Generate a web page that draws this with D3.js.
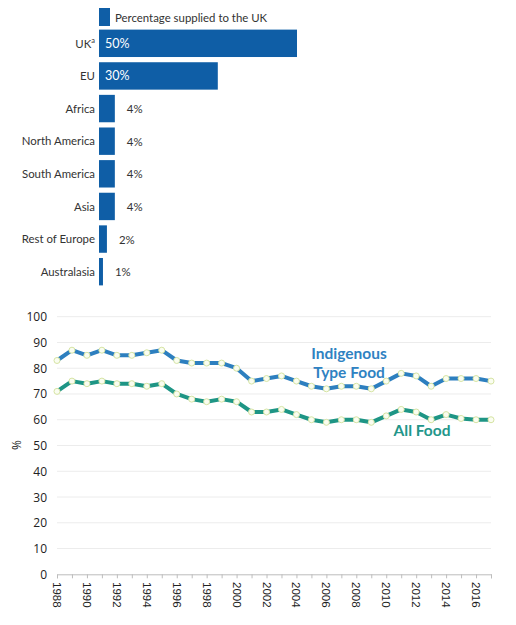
<!DOCTYPE html>
<html><head><meta charset="utf-8">
<script src="https://cdn.jsdelivr.net/npm/d3@7/dist/d3.min.js"></script>
<style>body{margin:0;background:#fff}svg{display:block}</style>
</head><body>
<svg id="c" width="516" height="625"></svg>
<script>
const regions = ["UK", "EU", "Africa", "North America", "South America", "Asia", "Rest of Europe", "Australasia"];
const shares = [50, 30, 4, 4, 4, 4, 2, 1];
const legendLabel = "Percentage supplied to the UK";

const years = d3.range(1988, 2018);
const indigenous = [83,87,85,87,85,85,86,87,83,82,82,82,80,75,76,77,75,73,72,73,73,72,75,78,77,73,76,76,76,75];
const allFood = [71,75,74,75,74,74,73,74,70,68,67,68,67,63,63,64,62,60,59,60,60,59,61.5,64,63,60,62,60.5,60,60];
const yTicks = [0,10,20,30,40,50,60,70,80,90,100];
const xLabelYears = d3.range(1988, 2017, 2);

const svg = d3.select("#c");
const font = "Lato, 'Noto Sans', sans-serif";
const barColor = "#0f5ea6";
const fs = 11.4;

// ---- Bar chart ----
const xb = d3.scaleLinear().domain([0, 50]).range([99, 297]);
const yb = d3.scaleBand().domain(regions).range([27, 288]).paddingInner(0.16).paddingOuter(0.08);

svg.append("rect").attr("x", 99).attr("y", 8).attr("width", 11).attr("height", 18).attr("fill", barColor);
svg.append("text").attr("x", 115).attr("y", 21.5).attr("font-family", font).attr("font-size", fs)
  .attr("fill", "#333").text(legendLabel);

const g = svg.append("g");
regions.forEach((r, i) => {
  const y = yb(r), h = yb.bandwidth();
  g.append("rect").attr("x", xb(0)).attr("y", y).attr("width", xb(shares[i]) - xb(0)).attr("height", h).attr("fill", barColor);
  const lab = g.append("text").attr("x", 95).attr("y", y + h / 2 + 4.2).attr("text-anchor", "end")
    .attr("font-family", font).attr("font-size", fs).attr("fill", "#333");
  if (r === "UK") {
    lab.append("tspan").text("UK");
    lab.append("tspan").attr("font-size", 7.5).attr("dy", -5).text("a");
  } else lab.text(r);
  const inside = shares[i] >= 20;
  g.append("text").attr("x", inside ? xb(0) + 6 : xb(shares[i]) + 12).attr("y", y + h / 2 + 4.5)
    .attr("font-family", font).attr("font-size", inside ? 12.5 : fs).attr("fill", inside ? "#fff" : "#333")
    .text(shares[i] + "%");
});

// ---- Line chart ----
const x = d3.scaleLinear().domain([1988, 2017]).range([57, 491]);
const y = d3.scaleLinear().domain([0, 100]).range([574.3, 316.7]);

svg.append("g").selectAll("line").data(yTicks.filter(d => d > 0)).join("line")
  .attr("x1", 57).attr("x2", 491).attr("y1", d => y(d)).attr("y2", d => y(d))
  .attr("stroke", "#ececec").attr("stroke-width", 1);

svg.append("g").selectAll("text").data(yTicks).join("text")
  .attr("x", 47).attr("y", d => y(d) + 4.5).attr("text-anchor", "end")
  .attr("font-family", "'Open Sans', sans-serif").attr("font-size", 12).attr("fill", "#222").text(d => d);

svg.append("text").attr("transform", "translate(21,445) rotate(-90)").attr("text-anchor", "middle")
  .attr("font-family", "'Open Sans', sans-serif").attr("font-size", 12).attr("fill", "#222").text("%");

const xAxis = d3.axisBottom(x).tickValues(years).tickSize(4).tickFormat("");
const ax = svg.append("g").attr("transform", `translate(0,${y(0)})`).call(xAxis);
ax.select(".domain").attr("stroke", "#bdbdbd");
ax.selectAll(".tick line").attr("stroke", "#bdbdbd");

svg.append("g").selectAll("text").data(xLabelYears).join("text")
  .attr("transform", d => `translate(${x(d) - 4},582) rotate(90)`)
  .attr("font-family", "'Liberation Sans', Arial, sans-serif").attr("font-size", 11.5).attr("fill", "#222").text(d => d);

const line = d3.line().x((d, i) => x(years[i])).y(d => y(d));
function series(vals, color) {
  svg.append("path").attr("d", line(vals)).attr("fill", "none").attr("stroke", color)
    .attr("stroke-width", 4).attr("stroke-linejoin", "round");
  svg.append("g").selectAll("circle").data(vals).join("circle")
    .attr("cx", (d, i) => x(years[i])).attr("cy", d => y(d)).attr("r", 3)
    .attr("fill", "#fafdf0").attr("stroke", "#d6e4a4").attr("stroke-width", 1);
}
series(indigenous, "#2d7fbf");
series(allFood, "#1e9585");

const lf = "Lato, 'Open Sans', sans-serif";
svg.append("text").attr("x", 349).attr("y", 359).attr("text-anchor", "middle").attr("font-family", lf)
  .attr("font-weight", "bold").attr("font-size", 15.5).attr("fill", "#2f82c2").text("Indigenous");
svg.append("text").attr("x", 349).attr("y", 378).attr("text-anchor", "middle").attr("font-family", lf)
  .attr("font-weight", "bold").attr("font-size", 15.5).attr("fill", "#2f82c2").text("Type Food");
svg.append("text").attr("x", 422).attr("y", 436).attr("text-anchor", "middle").attr("font-family", lf)
  .attr("font-weight", "bold").attr("font-size", 15.5).attr("fill", "#22968a").text("All Food");
</script>
</body></html>
